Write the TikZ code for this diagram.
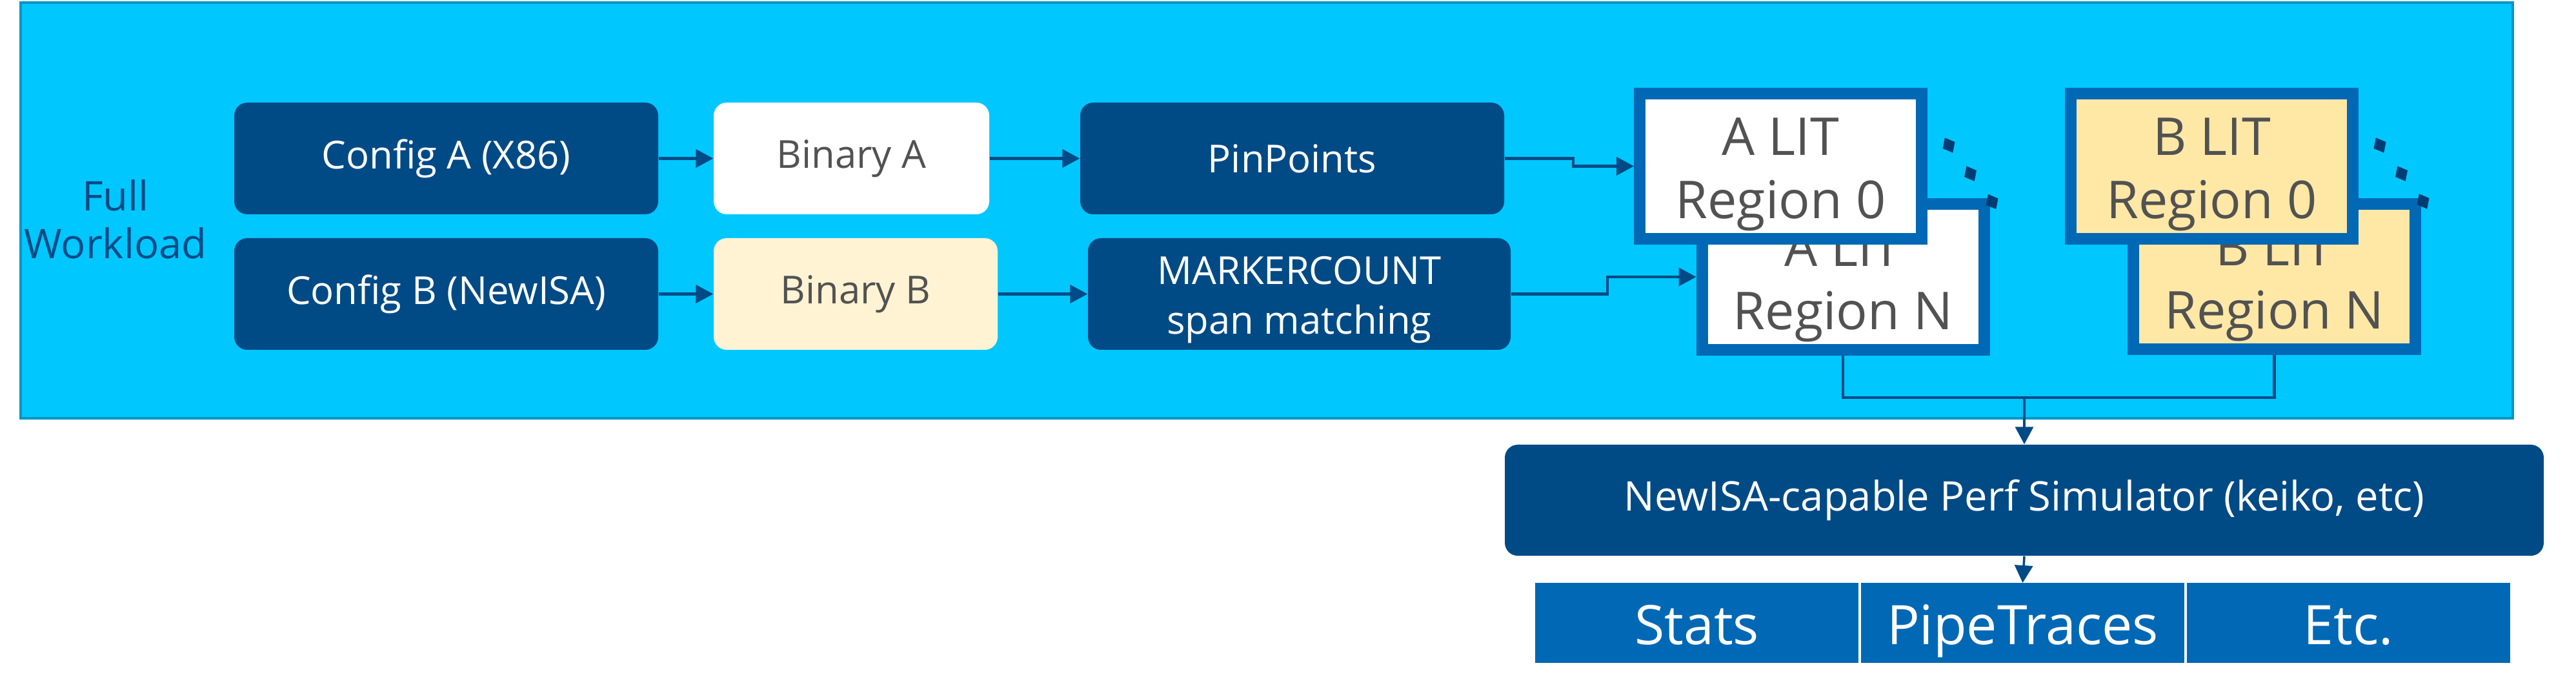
\documentclass[tikz,border=0pt]{standalone}
\usepackage{fontspec}
\setmainfont{Open Sans}
\usepackage{tikz}
\usetikzlibrary{shapes.geometric,arrows.meta,positioning}
\usepackage{xcolor}
\definecolor{wlcyan}{RGB}{0,199,253}
\definecolor{wledge}{RGB}{0,150,200}
\definecolor{intelnavy}{RGB}{0,74,134}
\definecolor{litblue}{RGB}{0,104,181}
\definecolor{dotblue}{RGB}{0,60,113}
\definecolor{bincream}{RGB}{255,243,212}
\definecolor{blityellow}{RGB}{255,232,166}
\definecolor{textgrey}{RGB}{82,82,82}
\newcommand{\litstrut}{\rule{0pt}{0.84cm}}
\newcommand{\mcstrut}{\rule{0pt}{0.62cm}}

\begin{document}
\begin{tikzpicture}[
    wlbox/.style={rectangle, draw=wledge, fill=wlcyan, line width=0.04cm,
                  minimum width=38.62cm, minimum height=6.44cm},
    cfg/.style={rectangle, fill=intelnavy, rounded corners=0.2cm, text=white, align=center,
                minimum width=6.57cm, minimum height=1.73cm, inner sep=2pt,
                font=\fontsize{17}{22}\selectfont},
    bin/.style={cfg, text=textgrey, minimum width=4.27cm},
    lit/.style={rectangle, draw=litblue, line width=0.18cm, fill=white, align=center,
                minimum width=4.37cm, minimum height=2.25cm, text=textgrey,
                font=\fontsize{23}{28}\selectfont},
    result/.style={rectangle, fill=litblue, text=white, outer sep=0pt,
                   minimum width=5.01cm, minimum height=1.24cm, text height=0.68cm, text depth=0pt,
                   font=\fontsize{24}{28}\selectfont},
    arr/.style={-{Triangle[length=0.27cm, width=0.28cm]}, line width=1.2pt, intelnavy},
    link/.style={line width=1.2pt, intelnavy},
    elldot/.style={diamond, fill=dotblue, inner sep=0pt, minimum width=0.22cm,
                   minimum height=0.27cm, rotate=28}]
\useasboundingbox (0,0) rectangle (39.92,-10.69);
\node[wlbox] (wl) at (19.63,-3.26) {};
\node[text=intelnavy, align=center, font=\fontsize{18}{21}\selectfont] (full) at (1.79,-3.40) {Full\\Workload};
\node[cfg] (cfgA) at (6.915,-2.455) {Config A (X86)};
\node[cfg] (cfgB) at (6.915,-4.555) {Config B (NewISA)};
\node[bin, fill=white] (binA) at (13.195,-2.455) {Binary A};
\node[bin, fill=bincream, minimum width=4.40cm] (binB) at (13.26,-4.555) {Binary B};
\node[cfg] (pin) at (20.025,-2.455) {PinPoints};
\node[cfg, minimum width=6.55cm] (mc) at (20.135,-4.555) {\mcstrut MARKERCOUNT\\span matching};
\node[lit] (aN) at (28.56,-4.29) {\litstrut A LIT\\Region N};
\node[lit] (a0) at (27.595,-2.575) {\litstrut A LIT\\Region 0};
\node[lit, fill=blityellow] (bN) at (35.245,-4.285) {\litstrut B LIT\\Region N};
\node[lit, fill=blityellow] (b0) at (34.275,-2.575) {\litstrut B LIT\\Region 0};
\foreach \px/\py in {30.20/-2.25,30.535/-2.69,30.87/-3.125,36.88/-2.25,37.215/-2.69,37.55/-3.12} {
    \node[elldot] at (\px,\py) {};
}
\node[cfg, minimum width=16.10cm, minimum height=1.72cm, font=\fontsize{18}{22}\selectfont]
      (sim) at (31.37,-7.75) {NewISA-capable Perf Simulator (keiko, etc)};
\node[result] (stats) at (26.295,-9.65) {Stats};
\node[result, right=0.04 of stats] (pipe) {PipeTraces};
\node[result, right=0.04 of pipe] (etc) {Etc.};
\coordinate (join) at (31.37,-6.16);
\draw[arr] (cfgA) -- (binA);
\draw[arr] (cfgB) -- (binB);
\draw[arr] (binA) -- (pin);
\draw[arr] (binB) -- (mc);
\draw[arr] (pin.east) -- ++(1.06,0) |- (a0.west);
\draw[arr] (mc.east) -- ++(1.49,0) |- (aN.west);
\draw[link] (aN.south) |- (join) -| (bN.south);
\draw[arr, line width=1pt] (join) -- (sim.north);
\draw[arr, line width=1pt] (sim.south) -- (pipe.north);
\end{tikzpicture}
\end{document}
